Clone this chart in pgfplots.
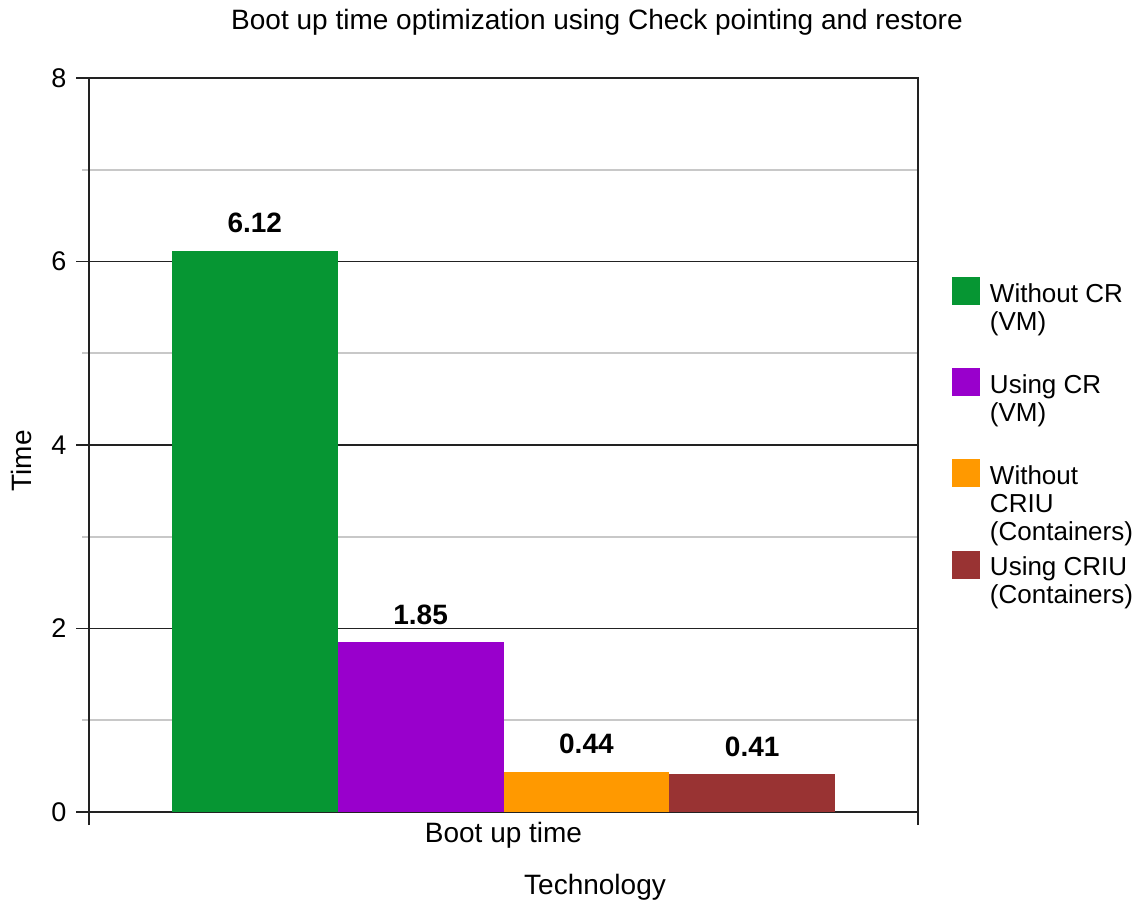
\documentclass[border=0pt]{standalone}
\usepackage{pgfplots}
\pgfplotsset{compat=1.18}
\usepackage{fontspec}
\setmainfont{Liberation Sans}

\definecolor{cgreen}{HTML}{069633}
\definecolor{cpurple}{HTML}{9900CC}
\definecolor{corange}{HTML}{FF9900}
\definecolor{cbrown}{HTML}{993333}
\definecolor{gridmajor}{HTML}{222222}
\definecolor{gridminor}{HTML}{C8C8C8}

\pgfplotsset{
  sqlegend/.style={legend image code/.code={\fill[##1] (0pt,-1.5pt) rectangle (14pt,12.5pt);}},
}

\begin{document}
\fontsize{14}{16}\selectfont
\begin{tikzpicture}
\path[use as bounding box] (-44.5pt,-45pt) rectangle (525.5pt,406pt);
\begin{axis}[
  at={(0pt,0pt)}, anchor=south west,
  scale only axis, width=414.5pt, height=367pt,
  xmin=0, xmax=5, ymin=0, ymax=8,
  ybar, bar width=1,
  xtick={0,5}, xticklabels={},
  extra x ticks={2.5}, extra x tick labels={Boot up time},
  extra x tick style={major tick length=0pt, xmajorgrids=false,
    xticklabel style={anchor=base, yshift=-15pt}},
  ytick={0,2,4,6,8}, minor ytick={1,3,5,7},
  yticklabel style={font=\fontsize{13.5}{16}\selectfont},
  xtick pos=bottom, ytick pos=left,
  tick align=outside, major tick length=6.5pt, minor tick length=3.5pt,
  ymajorgrids, yminorgrids,
  major grid style={gridmajor, line width=0.75pt},
  minor grid style={gridminor, line width=0.8pt},
  major tick style={gridmajor, line width=0.8pt},
  minor tick style={gridminor, line width=0.8pt},
  axis line style={gridmajor, line width=0.9pt},
  /pgf/number format/assume math mode=true,
  title={Boot up time optimization using Check pointing and restore},
  title style={at={(axis description cs:0.6128,1.0681)}, anchor=base, yshift=-6.5pt},
  xlabel={Technology},
  xlabel style={at={(axis description cs:0.6104,-0.1130)}, anchor=base},
  ylabel={Time},
  ylabel style={at={(axis description cs:-0.0690,0.4782)}, anchor=base},
  nodes near coords={\pgfmathprintnumber[fixed,fixed zerofill,precision=2,assume math mode=true]{\pgfplotspointmeta}},
  nodes near coords style={font=\bfseries, anchor=base, yshift=9pt},
  legend cell align=left,
  legend style={at={(axis description cs:1.041,0.7289)}, anchor=north west,
    draw=none, fill=none, inner sep=0pt, outer sep=0pt,
    row sep=31pt, column sep=5pt, font=\fontsize{13}{14}\selectfont,
    nodes={inner sep=0pt, anchor=base west}},
]
\addplot[fill=cgreen, draw=none, bar shift=0pt, sqlegend] coordinates {(1,6.12)};
\addlegendentry{\parbox[t]{85pt}{\rule{0pt}{12.5pt}Without CR\\(VM)}}
\addplot[fill=cpurple, draw=none, bar shift=0pt, sqlegend] coordinates {(2,1.85)};
\addlegendentry{\parbox[t]{85pt}{\rule{0pt}{12.5pt}Using CR\\(VM)}}
\addplot[fill=corange, draw=none, bar shift=0pt, sqlegend] coordinates {(3,0.44)};
\addlegendentry{\parbox[t]{85pt}{\rule{0pt}{12.5pt}Without\\CRIU\\(Containers)}}
\addplot[fill=cbrown, draw=none, bar shift=0pt, sqlegend] coordinates {(4,0.41)};
\addlegendentry{\parbox[t]{85pt}{\rule{0pt}{12.5pt}Using CRIU\\(Containers)}}
\end{axis}
\end{tikzpicture}
\end{document}
